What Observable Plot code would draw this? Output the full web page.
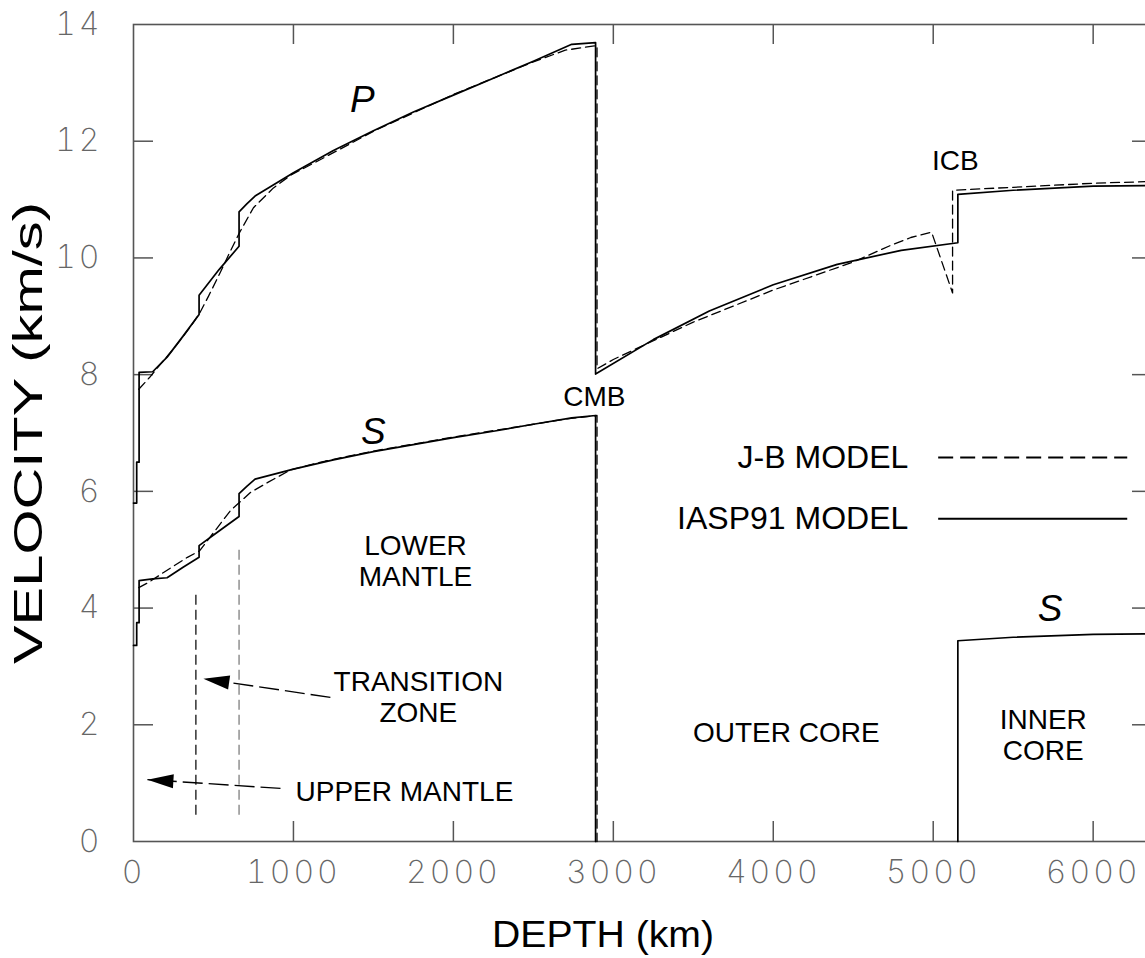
<!DOCTYPE html>
<html><head><meta charset="utf-8">
<script src="https://cdn.jsdelivr.net/npm/d3@7"></script>
<script src="https://cdn.jsdelivr.net/npm/@observablehq/plot@0.6"></script>
<style>
html,body{margin:0;padding:0;background:#fff;overflow:hidden;}
svg{max-width:none !important;}
</style></head><body><div id="chart"></div>
<script>
// ---- IASP91 model (solid) ----
const iaspPDepth = [0,20,20,35,35,120,210,310,410,410,535,660,660,710,760,1000,1250,1500,1750,2000,2250,2500,2740,2889,2889,3250,3600,4000,4400,4800,5154,5154,5500,6000,6371];
const iaspPVel   = [5.80,5.80,6.50,6.50,8.04,8.05,8.30,8.66,9.03,9.36,9.80,10.20,10.79,10.93,11.06,11.46,11.84,12.18,12.50,12.79,13.08,13.37,13.66,13.69,8.01,8.60,9.09,9.54,9.89,10.13,10.26,11.09,11.16,11.23,11.24];
const iaspSMantleDepth = [0,20,20,35,35,120,210,310,410,410,535,660,660,710,760,1000,1250,1500,1750,2000,2250,2500,2740,2889,2889];
const iaspSMantleVel   = [3.36,3.36,3.75,3.75,4.47,4.50,4.52,4.70,4.87,5.07,5.32,5.57,5.96,6.09,6.21,6.38,6.54,6.68,6.80,6.92,7.03,7.15,7.26,7.30,0];
const iaspSCoreDepth = [5154,5154,5500,6000,6371];
const iaspSCoreVel   = [0,3.44,3.50,3.55,3.56];
// ---- Jeffreys-Bullen model (dashed) ----
const jbPDepth = [33,100,169,250,356,413,470,530,594,660,750,875,984,1200,1500,2000,2500,2700,2898,2898,3000,3500,4000,4500,4730,4860,4990,5121,5121,5500,6000,6371];
const jbPVel   = [7.75,7.95,8.18,8.44,8.82,9.05,9.35,9.68,10.05,10.42,10.86,11.20,11.42,11.73,12.17,12.80,13.36,13.56,13.64,8.10,8.26,8.90,9.45,9.93,10.21,10.35,10.44,9.40,11.16,11.21,11.28,11.31];
const jbSDepth = [33,100,188,337,413,525,606,731,837,984,1200,1500,2000,2500,2700,2898,2898];
const jbSVel   = [4.35,4.45,4.61,4.87,4.98,5.38,5.67,5.98,6.15,6.37,6.52,6.69,6.93,7.15,7.24,7.30,0];

// ---- axes ----
const xTicks = [0,1000,2000,3000,4000,5000,6000];
const yTicks = [0,2,4,6,8,10,12,14];
const xDomain = [0, 6371];
const yDomain = [0, 14];

// ---- boundary markers ----
const markerDepth = [390, 660];
const markerTop = [4.25, 5.0];
const markerBottom = [0.45, 0.45];
const markerColor = ["#222", "#888"];

// ---- annotations ----
const regionLabels = ["LOWER\nMANTLE","TRANSITION\nZONE","UPPER MANTLE","OUTER CORE","INNER\nCORE","CMB","ICB"];
const regionDepth = [1763, 1781, 1694, 4081, 5688, 2881, 5138];
const regionVel   = [4.81, 2.48, 0.87, 1.88, 1.83, 7.63, 11.67];
const waveLabels = ["P","S","S"];
const waveDepth = [1431, 1500, 5731];
const waveVel   = [12.71, 7.01, 3.98];
// arrows: tail -> tip
const arrowTailDepth = [1231, 919];
const arrowTailVel   = [2.47, 0.91];
const arrowTipDepth  = [437, 87];
const arrowTipVel    = [2.79, 1.06];
// legend
const legendNames = ["J-B MODEL","IASP91 MODEL"];
const legendVel = [6.58, 5.53];
const legendTextDepth = 4844;
const legendLineStart = 5031;
const legendLineEnd = 6213;

const toRows = (d, v) => d.map((x, i) => ({depth: x, vel: v[i]}));
const iaspP = toRows(iaspPDepth, iaspPVel);
const iaspSMantle = toRows(iaspSMantleDepth, iaspSMantleVel);
const iaspSCore = toRows(iaspSCoreDepth, iaspSCoreVel);
const jbP = toRows(jbPDepth, jbPVel);
const jbS = toRows(jbSDepth, jbSVel);
const markers = markerDepth.map((d, i) => ({depth: d, top: markerTop[i], bottom: markerBottom[i], color: markerColor[i]}));
const regions = regionLabels.map((t, i) => ({text: t, depth: regionDepth[i], vel: regionVel[i]}));
const waves = waveLabels.map((t, i) => ({text: t, depth: waveDepth[i], vel: waveVel[i]}));
const legend = legendNames.map((t, i) => ({text: t, vel: legendVel[i], dash: i === 0}));

const W = 1160, H = 958, mL = 133, mR = 8, mT = 24, mB = 117;
const pxPerDepth = (W - mL - mR) / (xDomain[1] - xDomain[0]);
const pxPerVel = (H - mT - mB) / (yDomain[1] - yDomain[0]);
const arrows = arrowTipDepth.map((d, i) => {
  const dx = (arrowTailDepth[i] - d) * pxPerDepth;
  const dy = -(arrowTailVel[i] - arrowTipVel[i]) * pxPerVel;
  return {tipD: d, tipV: arrowTipVel[i], tailD: arrowTailDepth[i], tailV: arrowTailVel[i], angle: Math.atan2(dy, dx) * 180 / Math.PI};
});
const arrowHead = {draw(ctx) { ctx.moveTo(0, 0); ctx.lineTo(26, -7); ctx.lineTo(26, 7); ctx.closePath(); }};

const sans = "Liberation Sans, Arial, Helvetica, sans-serif";
const tickFont = "Inter, Roboto, DejaVu Sans, sans-serif";
const tickGray = "#555";

const chart = Plot.plot({
  width: W, height: H,
  marginLeft: mL, marginRight: mR, marginTop: mT, marginBottom: mB,
  style: {background: "white", fontFamily: sans, maxWidth: "none"},
  x: {domain: xDomain, axis: null},
  y: {domain: yDomain, axis: null},
  marks: [
    // inward ticks
    Plot.ruleX(xTicks.slice(1), {x: d => d, y1: yDomain[0], y2: yDomain[0], insetTop: -20, stroke: tickGray, strokeWidth: 1.5}),
    Plot.ruleX(xTicks.slice(1), {x: d => d, y1: yDomain[1], y2: yDomain[1], insetBottom: -20, stroke: tickGray, strokeWidth: 1.5}),
    Plot.ruleY(yTicks.slice(1, -1), {y: d => d, x1: xDomain[0], x2: xDomain[0], insetRight: -20, stroke: tickGray, strokeWidth: 1.5}),
    Plot.ruleY(yTicks.slice(1, -1), {y: d => d, x1: xDomain[1], x2: xDomain[1], insetLeft: -20, stroke: tickGray, strokeWidth: 1.5}),
    Plot.frame({stroke: tickGray, strokeWidth: 1.6}),
    // tick labels
    Plot.axisX(xTicks, {anchor: "bottom", tickSize: 0, tickPadding: 19, tickFormat: d => String(d), fontSize: 32, fontFamily: tickFont, fontWeight: 200, fill: "#666", label: null}),
    Plot.axisY(yTicks, {anchor: "left", tickSize: 0, tickPadding: 31, tickFormat: d => String(d), fontSize: 32, fontFamily: tickFont, fontWeight: 200, fill: "#666", label: null}),
    // axis titles
    Plot.text(["DEPTH (km)"], {frameAnchor: "bottom", dx: -40, dy: 94, lineAnchor: "middle", textAnchor: "middle", fontSize: 36, fontFamily: sans, fill: "black"}),
    Plot.text(["VELOCITY (km/s)"], {frameAnchor: "left", dx: -105, rotate: -90, lineAnchor: "middle", textAnchor: "middle", fontSize: 41, fontFamily: sans, fill: "black"}),
    // boundary markers
    Plot.ruleX(markers, {x: "depth", y1: "bottom", y2: "top", stroke: "color", strokeWidth: 1.4, strokeDasharray: "10,5"}),
    // curves
    Plot.line(jbP, {x: "depth", y: "vel", stroke: "black", strokeWidth: 1.3, strokeDasharray: "9,5"}),
    Plot.line(jbS, {x: "depth", y: "vel", stroke: "black", strokeWidth: 1.3, strokeDasharray: "9,5"}),
    Plot.line(iaspP, {x: "depth", y: "vel", stroke: "black", strokeWidth: 1.7}),
    Plot.line(iaspSMantle, {x: "depth", y: "vel", stroke: "black", strokeWidth: 1.7}),
    Plot.line(iaspSCore, {x: "depth", y: "vel", stroke: "black", strokeWidth: 1.7}),
    // annotations
    Plot.text(regions, {x: "depth", y: "vel", text: "text", fontSize: 28, lineHeight: 1.1, fill: "black", fontFamily: sans}),
    Plot.text(waves, {x: "depth", y: "vel", text: "text", fontSize: 37, fontStyle: "italic", fill: "black", fontFamily: sans}),
    // arrows
    Plot.link(arrows, {x1: "tailD", y1: "tailV", x2: "tipD", y2: "tipV", stroke: "black", strokeWidth: 1.4, strokeDasharray: "20,6"}),
    Plot.dot(arrows, {x: "tipD", y: "tipV", symbol: arrowHead, r: 5, fill: "black", stroke: null, rotate: "angle"}),
    // legend
    Plot.text(legend, {x: legendTextDepth, y: "vel", text: "text", textAnchor: "end", fontSize: 32, fill: "black", fontFamily: sans}),
    Plot.link(legend.filter(d => d.dash), {x1: legendLineStart, x2: legendLineEnd, y1: "vel", y2: "vel", stroke: "black", strokeWidth: 2, strokeDasharray: "15,7"}),
    Plot.link(legend.filter(d => !d.dash), {x1: legendLineStart, x2: legendLineEnd, y1: "vel", y2: "vel", stroke: "black", strokeWidth: 2})
  ]
});

const sel = d3.select(chart);
sel.selectAll('g[aria-label$="tick label"] text').attr("letter-spacing", 3);
sel.selectAll("text").filter(function() { return this.textContent === "VELOCITY (km/s)"; })
  .attr("textLength", 462).attr("lengthAdjust", "spacingAndGlyphs");
sel.selectAll("text").filter(function() { return this.textContent === "DEPTH (km)"; })
  .attr("textLength", 222).attr("lengthAdjust", "spacingAndGlyphs");

document.getElementById("chart").appendChild(chart);
</script>
</body></html>
